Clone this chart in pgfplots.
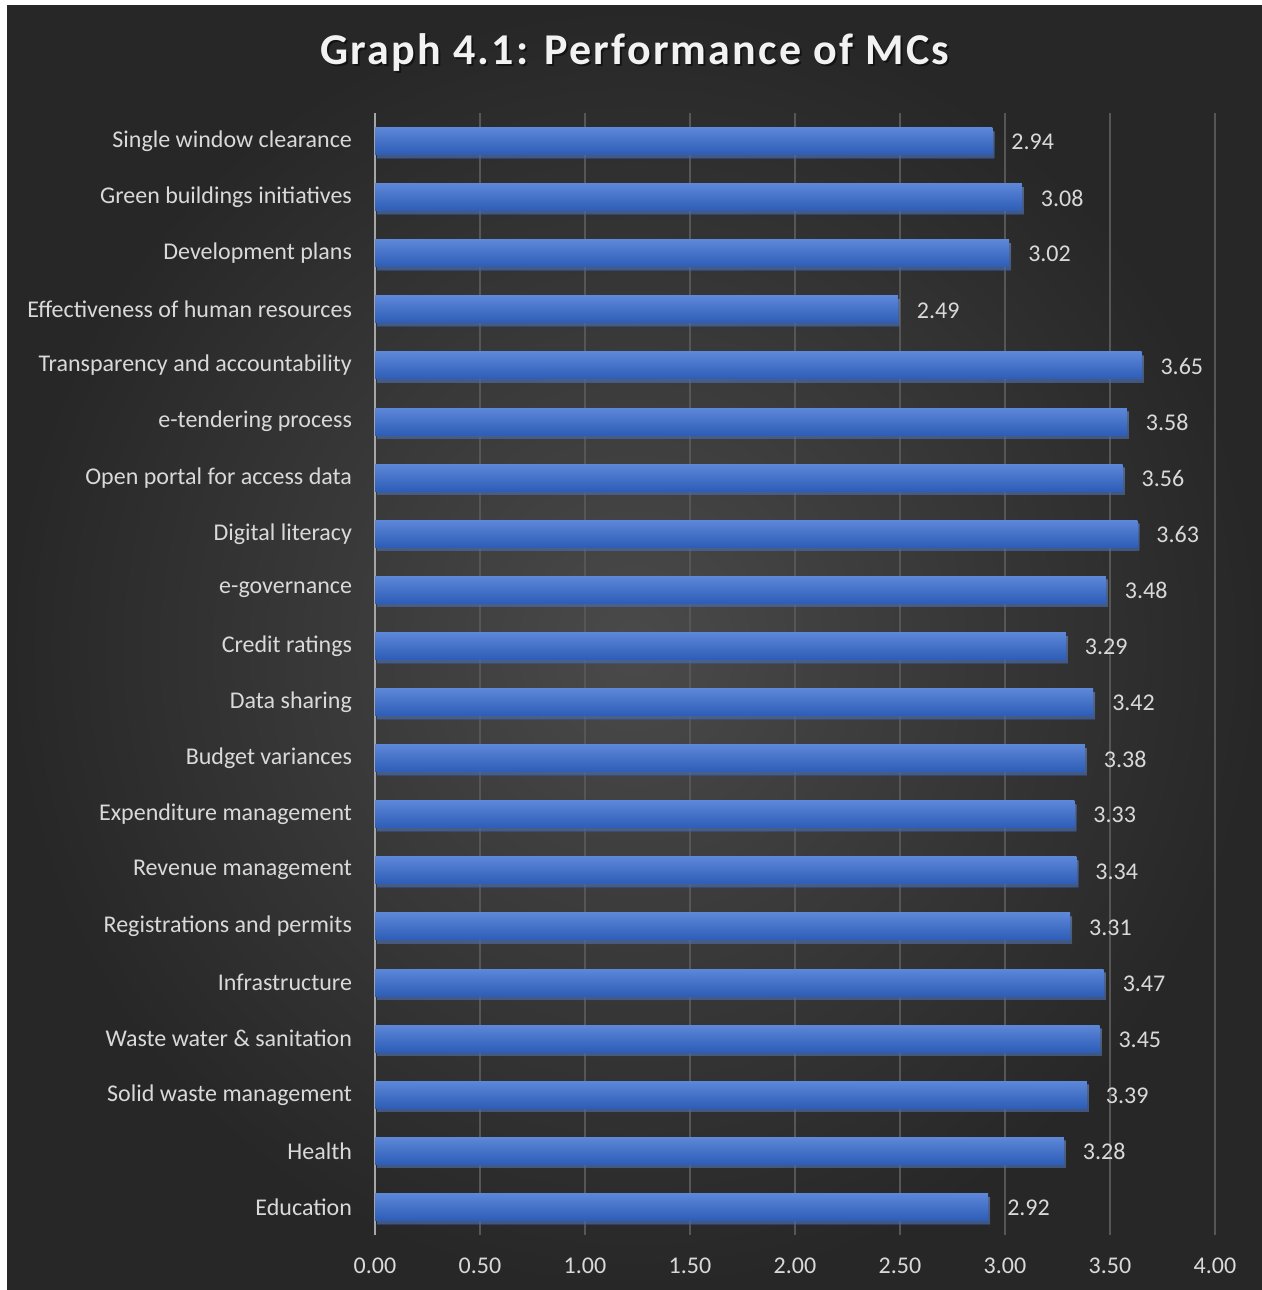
\documentclass[border=0pt]{standalone}
\usepackage{pgfplots}
\pgfplotsset{compat=1.18}
\usepackage{pgfplotstable}
\usepackage{fontspec}
\setmainfont{Carlito}
\usetikzlibrary{shadows}
\definecolor{bgin}{HTML}{4A4A4A}
\definecolor{bgout}{HTML}{272727}
\definecolor{txt}{HTML}{D9D9D9}
\definecolor{gridc}{HTML}{565656}
\definecolor{axc}{HTML}{A6A6A6}
\definecolor{bartop}{HTML}{5D87D8}
\definecolor{barbot}{HTML}{2D5DB7}
\pgfplotstableread{
y v
0 2.92
1 3.28
2 3.39
3 3.45
4 3.47
5 3.31
6 3.34
7 3.33
8 3.38
9 3.42
10 3.29
11 3.48
12 3.63
13 3.56
14 3.58
15 3.65
16 2.49
17 3.02
18 3.08
19 2.94
}\datatable
\begin{document}
\begin{tikzpicture}
\useasboundingbox (0pt,0pt) rectangle (631pt,645pt);
\fill[white] (0pt,0pt) rectangle (631pt,645pt);
\shade[inner color=bgin, outer color=bgout] (3.5pt,0pt) rectangle (631pt,642pt);
\begin{axis}[
  at={(187.5pt,27.5pt)}, anchor=south west,
  scale only axis, width=420pt, height=561pt,
  xmin=0, xmax=4, ymin=-0.5, ymax=19.5,
  xbar, bar width=13.5pt, bar shift=0pt,
  axis lines*=left,
  x axis line style={draw=none},
  y axis line style={draw=axc, line width=1.2pt},
  major tick length=0pt,
  xtick={0,0.5,...,4},
  xticklabel={\pgfmathprintnumber[fixed,fixed zerofill,precision=2,assume math mode=true]{\tick}},
  ytick={0,...,19},
  yticklabels={Education,Health,Solid waste management,Waste water \& sanitation,Infrastructure,Registrations and permits,Revenue management,Expenditure management,Budget variances,Data sharing,Credit ratings,e-governance,Digital literacy,Open portal for access data,e-tendering process,Transparency and accountability,Effectiveness of human resources,Development plans,Green buildings initiatives,Single window clearance},
  xmajorgrids, grid style={gridc, line width=0.7pt},
  tick label style={font=\fontsize{12}{14}\selectfont, text=txt},
  yticklabel style={xshift=-8pt},
  xticklabel style={yshift=-8pt},
  nodes near coords={\pgfmathprintnumber[fixed,fixed zerofill,precision=2,assume math mode=true]{\pgfplotspointmeta}},
  nodes near coords style={text=txt, font=\fontsize{12}{14}\selectfont, anchor=west, xshift=6pt, yshift=-0.5pt},
]
\pgfplotsinvokeforeach{0,...,19}{
\addplot[draw=none, top color=bartop, bottom color=barbot, drop shadow={shadow xshift=1pt, shadow yshift=-1.8pt, opacity=0.45}, y filter/.expression={abs(y-#1)<0.1 ? y : nan}] table[x=v, y=y] {\datatable};
}
\end{axis}
\node[text=black, opacity=0.5, font=\fontsize{22}{26}\selectfont\bfseries\addfontfeature{LetterSpace=5}] at (318.5pt,617.5pt) {Graph 4.1: Performance of MCs};
\node[text=white!95!black, font=\fontsize{22}{26}\selectfont\bfseries\addfontfeature{LetterSpace=5}] at (317.5pt,618.5pt) {Graph 4.1: Performance of MCs};
\end{tikzpicture}
\end{document}
